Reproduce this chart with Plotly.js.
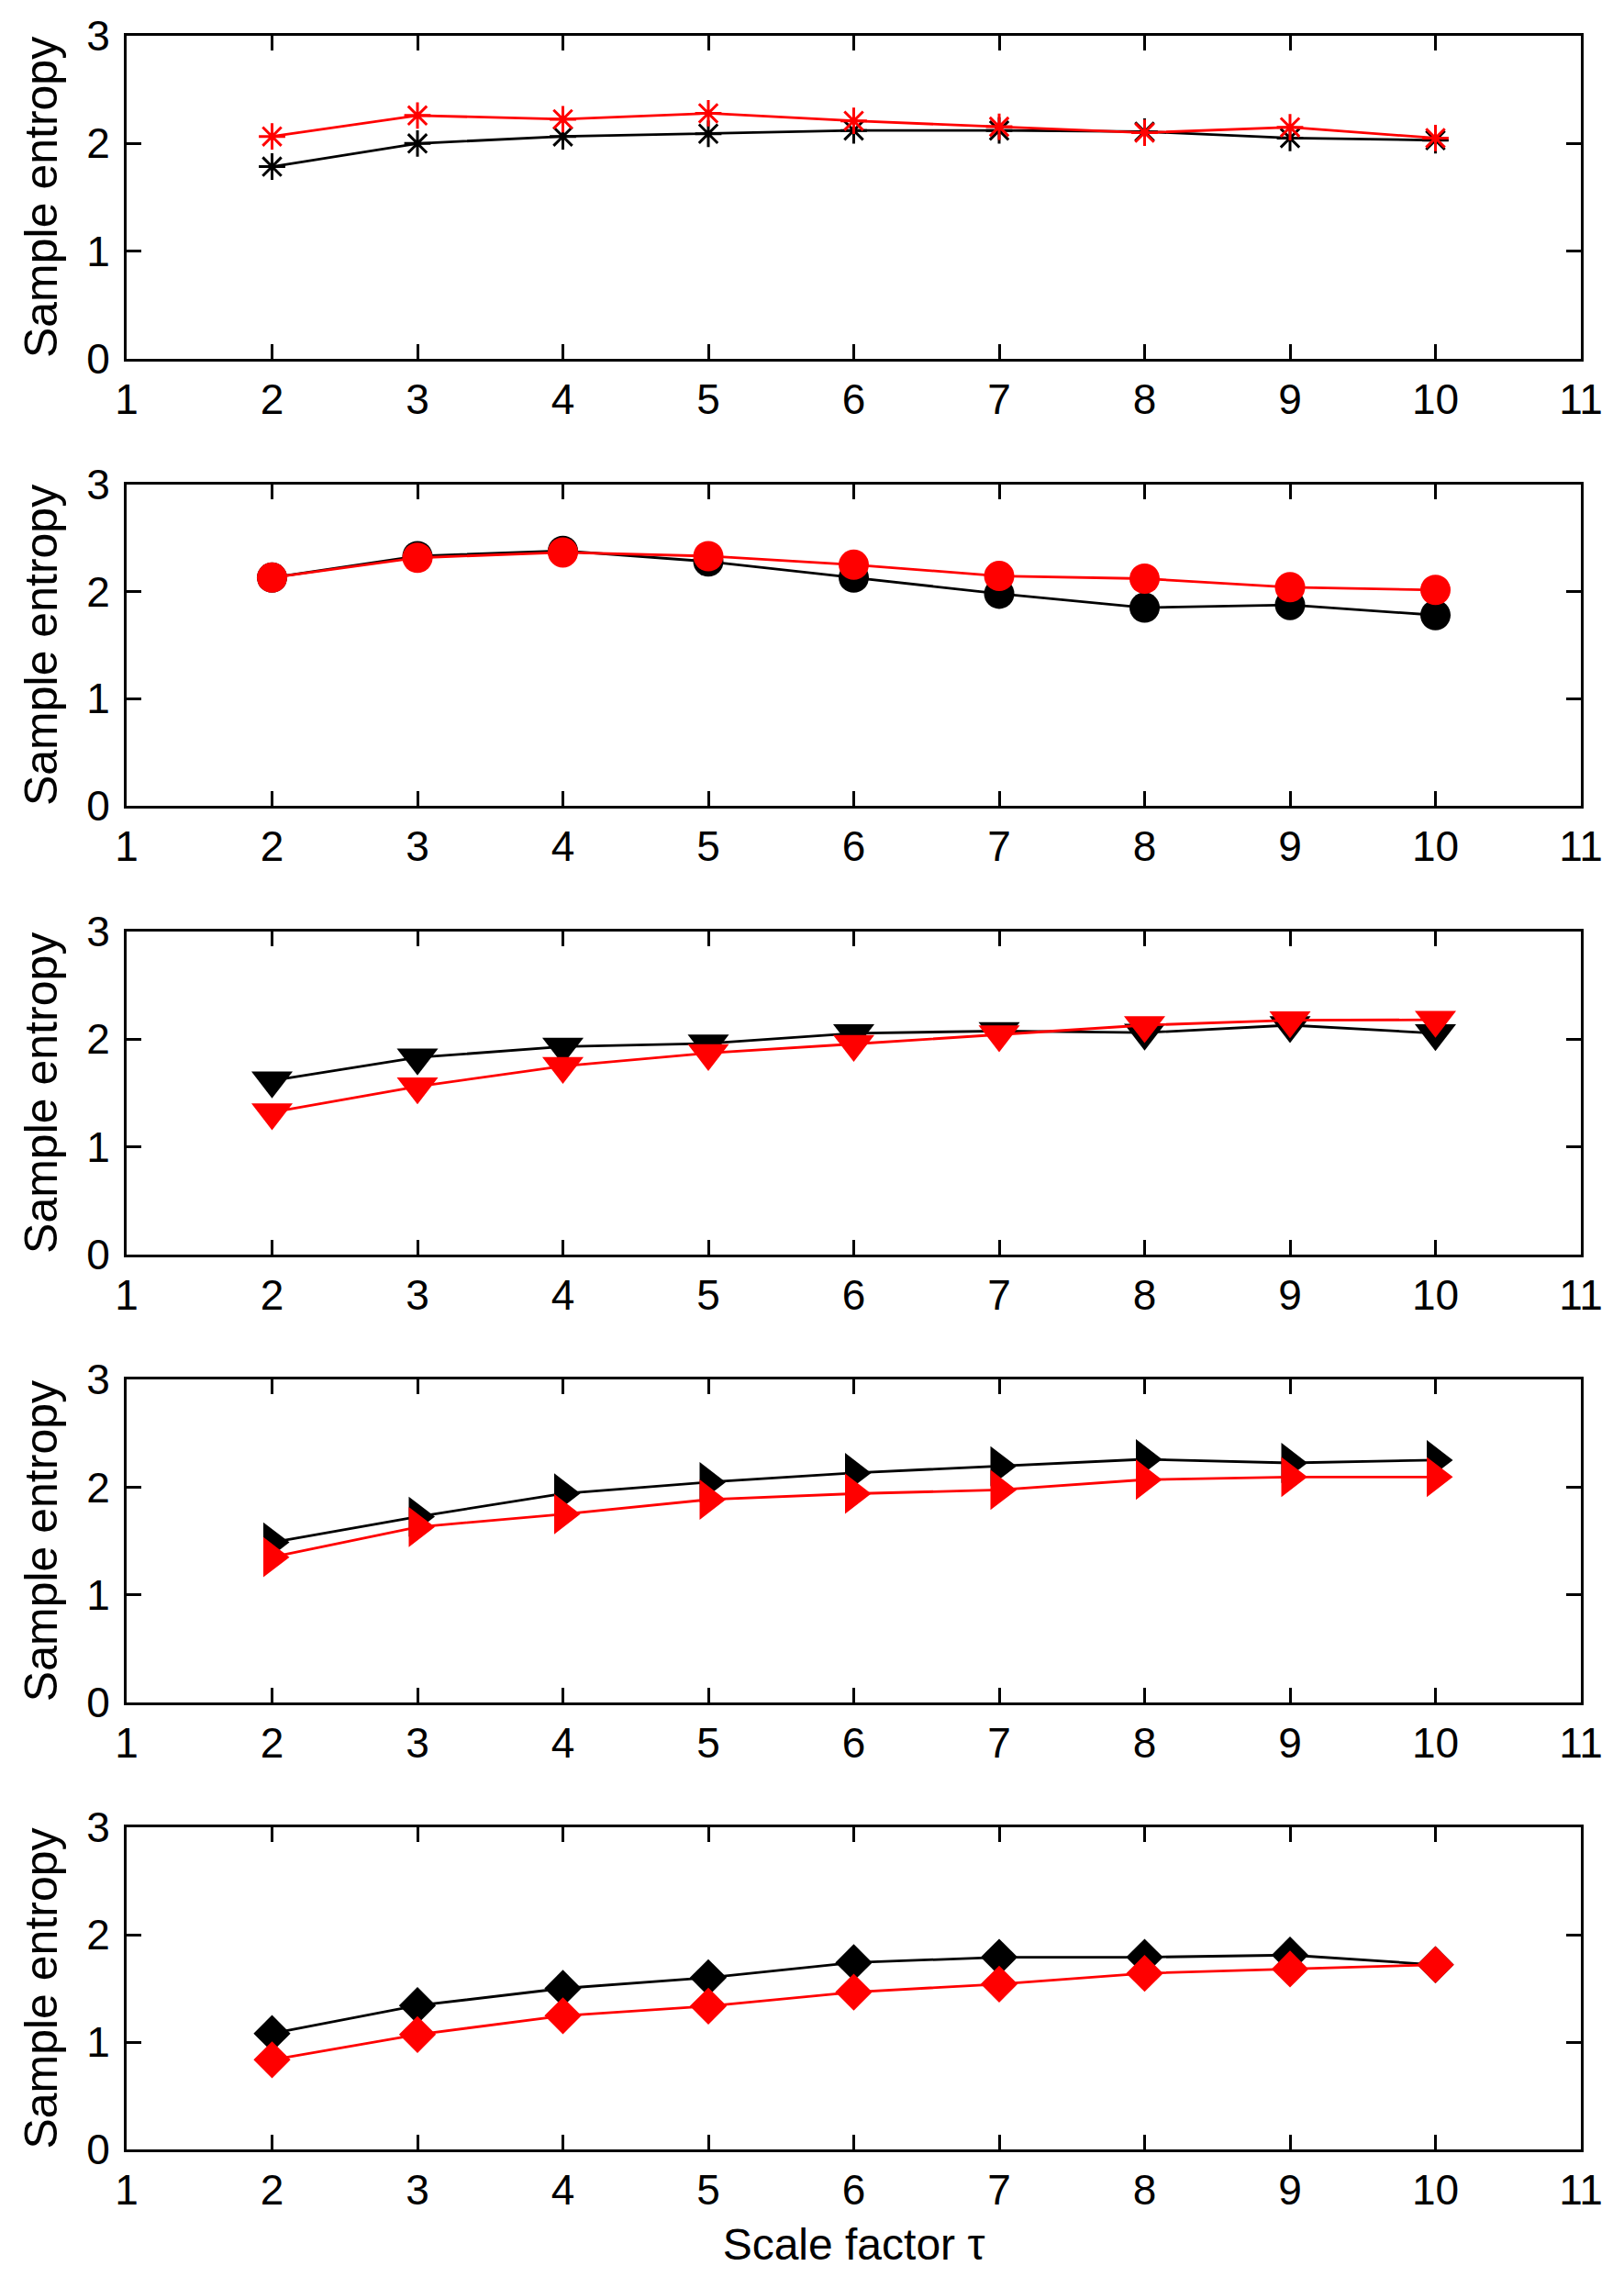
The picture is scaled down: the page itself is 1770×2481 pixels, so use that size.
<!DOCTYPE html>
<html>
<head>
<meta charset="utf-8">
<script src="https://cdn.plot.ly/plotly-3.0.1.min.js"></script>
<style>html,body{margin:0;padding:0;background:#fff;}#chart{width:1770px;height:2481px;}</style>
</head>
<body>
<div id="chart"></div>
<script>
// Scale factor tau
const tau = [2, 3, 4, 5, 6, 7, 8, 9, 10];
const xTicks = [1, 2, 3, 4, 5, 6, 7, 8, 9, 10, 11];
const yTicks = [0, 1, 2, 3];

// Panel 1 (asterisks)
const p1Black = [1.785, 2.00, 2.065, 2.09, 2.12, 2.12, 2.11, 2.05, 2.03];
const p1Red   = [2.065, 2.26, 2.225, 2.28, 2.21, 2.155, 2.10, 2.15, 2.05];
// Panel 2 (circles)
const p2Black = [2.13, 2.33, 2.38, 2.28, 2.13, 1.98, 1.85, 1.875, 1.78];
const p2Red   = [2.13, 2.315, 2.365, 2.33, 2.25, 2.145, 2.12, 2.04, 2.015];
// Panel 3 (down triangles)
const p3Black = [1.615, 1.83, 1.93, 1.96, 2.055, 2.075, 2.06, 2.13, 2.055];
const p3Red   = [1.32, 1.56, 1.75, 1.87, 1.955, 2.045, 2.13, 2.175, 2.18];
// Panel 4 (right triangles)
const p4Black = [1.487, 1.726, 1.942, 2.047, 2.133, 2.195, 2.26, 2.226, 2.252];
const p4Red   = [1.35, 1.63, 1.75, 1.885, 1.94, 1.975, 2.07, 2.095, 2.095];
// Panel 5 (diamonds)
const p5Black = [1.08, 1.34, 1.50, 1.60, 1.74, 1.79, 1.79, 1.81, 1.72];
const p5Red   = [0.835, 1.07, 1.245, 1.335, 1.465, 1.54, 1.64, 1.68, 1.72];

const yTitle = 'Sample entropy';
const xTitle = 'Scale factor \u03c4';

const panels = [
  {black: p1Black, red: p1Red, symbol: 'asterisk-open', size: 24},
  {black: p2Black, red: p2Red, symbol: 'circle', size: 33},
  {black: p3Black, red: p3Red, symbol: 'triangle-down', size: 39},
  {black: p4Black, red: p4Red, symbol: 'triangle-right', size: 38},
  {black: p5Black, red: p5Red, symbol: 'diamond', size: 31}
];
const domains = [[0.8472, 1.0], [0.6356, 0.7878], [0.4235, 0.5762], [0.2115, 0.3642], [0.0, 0.1524]];

const FONT = 'Liberation Sans, Arial, Helvetica, sans-serif';
const traces = [];
const layout = {
  width: 1770, height: 2481,
  margin: {l: 138, r: 47, t: 39, b: 139},
  paper_bgcolor: '#ffffff', plot_bgcolor: '#ffffff',
  showlegend: false,
  font: {family: FONT, color: '#000000', size: 46}
};

panels.forEach((p, i) => {
  const n = i + 1;
  const xa = n === 1 ? 'x' : 'x' + n;
  const ya = n === 1 ? 'y' : 'y' + n;
  [['black', '#000000'], ['red', '#ff0000']].forEach(([key, col]) => {
    const isOpen = p.symbol.indexOf('open') >= 0;
    traces.push({
      x: tau, y: p[key], xaxis: xa, yaxis: ya,
      type: 'scatter', mode: 'lines+markers',
      line: {color: col, width: 2.8},
      marker: {symbol: p.symbol, size: p.size, color: col,
               line: {color: col, width: isOpen ? 3 : 0}},
      hoverinfo: 'skip'
    });
  });
  const axCommon = {
    showline: true, mirror: 'ticks', linecolor: '#000000', linewidth: 3,
    ticks: 'inside', ticklen: 16, tickwidth: 3, tickcolor: '#000000',
    showgrid: false, zeroline: false, fixedrange: true,
    tickfont: {family: FONT, size: 46, color: '#000000'}
  };
  layout['xaxis' + (n === 1 ? '' : n)] = Object.assign({}, axCommon, {
    anchor: ya, domain: [0, 1], range: [1, 11],
    tickmode: 'array', tickvals: xTicks, ticktext: xTicks.map(String),
    ticklabelstandoff: 2,
    title: n === 5 ? {text: xTitle, font: {family: FONT, size: 48, color: '#000000'}, standoff: 18} : {text: ''}
  });
  layout['yaxis' + (n === 1 ? '' : n)] = Object.assign({}, axCommon, {
    anchor: xa, domain: domains[i], range: [0, 3],
    tickmode: 'array', tickvals: yTicks, ticktext: yTicks.map(String),
    ticklabelstandoff: 6,
    title: {text: yTitle, font: {family: FONT, size: 50, color: '#000000'}, standoff: 16}
  });
});

Plotly.newPlot('chart', traces, layout, {staticPlot: true, displayModeBar: false});
</script>
</body>
</html>
